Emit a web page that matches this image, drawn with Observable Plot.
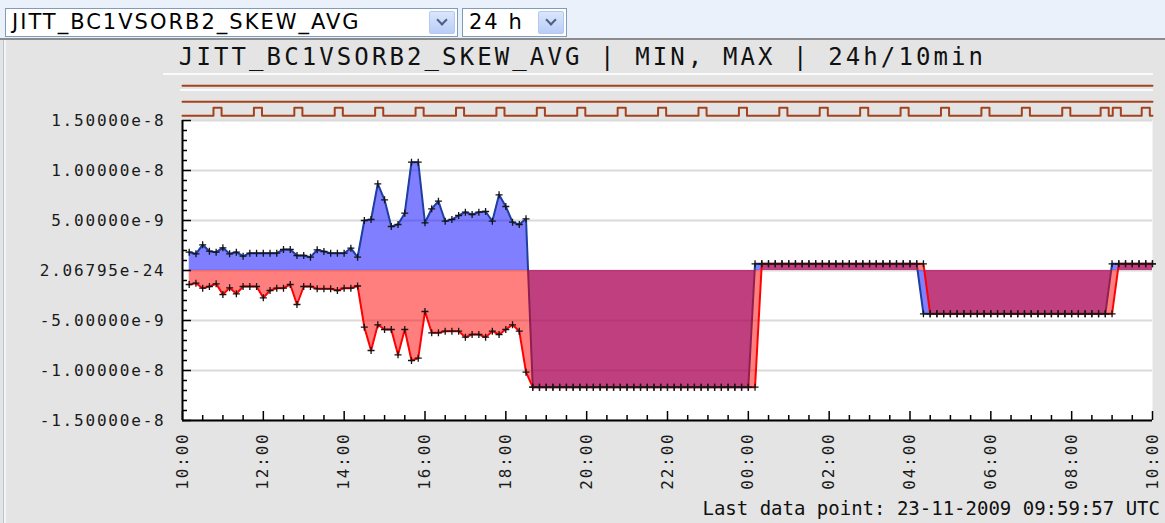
<!DOCTYPE html>
<html>
<head>
<meta charset="utf-8">
<script src="https://cdn.jsdelivr.net/npm/d3@7"></script>
<script src="https://cdn.jsdelivr.net/npm/@observablehq/plot@0.6"></script>
<style>
  body { margin: 0; width: 1165px; height: 523px; overflow: hidden; background: #e4e4e4; position: relative; font-family: "DejaVu Sans", sans-serif; }
  #topbar { position: absolute; left: 0; top: 0; width: 1165px; height: 40px; background: #eaf1fa; border-bottom: 2px solid #8c8c8c; box-sizing: border-box; }
  .sel { position: absolute; top: 8px; height: 29px; background: #fff; border: 1px solid #7f9db9; box-sizing: border-box; }
  .sel span { position: absolute; left: 6px; top: 1px; font-size: 21px; letter-spacing: 2px; color: #000; white-space: nowrap; }
  .btn { position: absolute; top: 2px; right: 2px; width: 26px; height: 23px; background: linear-gradient(#dbe6fc, #b9cdf6); border: 1px solid #b5c7ef; border-radius: 2px; box-sizing: border-box; }
  .btn:after { content: ""; position: absolute; left: 8px; top: 4px; width: 6px; height: 6px; border-right: 2.5px solid #4a5f88; border-bottom: 2.5px solid #4a5f88; transform: rotate(45deg); }
  #leftedge { position: absolute; left: 3px; top: 40px; width: 2px; height: 483px; background: #f4f4f4; border-left: 1px solid #b8c4d4; }
  #title { position: absolute; left: 0; top: 43px; width: 1165px; text-align: center; font-family: "DejaVu Sans Mono", monospace; font-size: 24px; letter-spacing: 3.1px; color: #111; white-space: nowrap; }
  .hl { position: absolute; height: 2px; background: #fafafa; }
  .lane { position: absolute; left: 0; }
  #chart { position: absolute; left: 0; top: 0; }
  #lastpoint { position: absolute; right: 5px; top: 497px; font-family: "DejaVu Sans Mono", monospace; font-size: 19px; color: #111; white-space: nowrap; }
</style>
</head>
<body>
<div id="topbar">
  <div class="sel" style="left:5px;width:453px;"><span>JITT_BC1VSORB2_SKEW_AVG</span><div class="btn"></div></div>
  <div class="sel" style="left:462px;width:105px;"><span>24 h</span><div class="btn"></div></div>
</div>
<div id="leftedge"></div>
<div id="title">JITT_BC1VSORB2_SKEW_AVG | MIN, MAX | 24h/10min</div>
<div class="hl" style="left:163px;top:73px;width:990px;"></div>
<div class="hl" style="left:180px;top:89px;width:973px;"></div>
<div id="lanes"></div>
<div id="chart"></div>
<div id="lastpoint">Last data point: 23-11-2009 09:59:57 UTC</div>
<script>
// ---------- data ----------
const domainStart = Date.UTC(2009, 10, 22, 10, 0, 0);
const domainEnd = Date.UTC(2009, 10, 23, 10, 0, 0);
const firstSample = Date.UTC(2009, 10, 22, 10, 9, 57);
const sampleStepMinutes = 10;

// MAX series, units of 1e-9
const maxValues = [
  1.83, 1.67, 2.57, 1.93, 1.83, 2.27, 1.67, 1.83, 1.43, 1.73,
  1.73, 1.73, 1.73, 1.73, 2.10, 2.10, 1.50, 1.50, 1.33, 2.07,
  1.90, 1.73, 1.73, 1.73, 2.23, 1.33, 5.00, 5.10, 8.67, 7.07,
  4.40, 4.60, 5.73, 10.83, 10.83, 4.77, 6.17, 6.93, 4.93, 5.10,
  5.50, 5.83, 5.60, 5.83, 5.90, 4.93, 7.57, 6.40, 4.83, 4.60,
  5.17, -11.67, -11.67, -11.67, -11.67, -11.67, -11.67, -11.67, -11.67, -11.67,
  -11.67, -11.67, -11.67, -11.67, -11.67, -11.67, -11.67, -11.67, -11.67, -11.67,
  -11.67, -11.67, -11.67, -11.67, -11.67, -11.67, -11.67, -11.67, -11.67, -11.67,
  -11.67, -11.67, -11.67, -11.67, 0.67, 0.67, 0.67, 0.67, 0.67, 0.67,
  0.67, 0.67, 0.67, 0.67, 0.67, 0.67, 0.67, 0.67, 0.67, 0.67,
  0.67, 0.67, 0.67, 0.67, 0.67, 0.67, 0.67, 0.67, 0.67, -4.33,
  -4.33, -4.33, -4.33, -4.33, -4.33, -4.33, -4.33, -4.33, -4.33, -4.33,
  -4.33, -4.33, -4.33, -4.33, -4.33, -4.33, -4.33, -4.33, -4.33, -4.33,
  -4.33, -4.33, -4.33, -4.33, -4.33, -4.33, -4.33, 0.67, 0.67, 0.67,
  0.67, 0.67, 0.67, 0.67
];

// MIN series, units of 1e-9
const minValues = [
  -1.40, -1.27, -1.77, -1.60, -1.33, -2.40, -1.73, -2.33, -1.60, -1.60,
  -1.60, -2.73, -2.00, -1.77, -1.77, -1.40, -3.40, -1.60, -1.60, -1.83,
  -1.83, -1.83, -2.00, -1.77, -1.77, -1.55, -5.67, -8.00, -5.43, -5.90,
  -5.90, -8.43, -5.90, -9.00, -8.77, -4.10, -6.23, -6.23, -6.07, -6.07,
  -6.07, -6.67, -6.40, -6.40, -6.67, -6.07, -6.40, -5.90, -5.43, -6.07,
  -10.17, -11.67, -11.67, -11.67, -11.67, -11.67, -11.67, -11.67, -11.67, -11.67,
  -11.67, -11.67, -11.67, -11.67, -11.67, -11.67, -11.67, -11.67, -11.67, -11.67,
  -11.67, -11.67, -11.67, -11.67, -11.67, -11.67, -11.67, -11.67, -11.67, -11.67,
  -11.67, -11.67, -11.67, -11.67, -11.67, 0.67, 0.67, 0.67, 0.67, 0.67,
  0.67, 0.67, 0.67, 0.67, 0.67, 0.67, 0.67, 0.67, 0.67, 0.67,
  0.67, 0.67, 0.67, 0.67, 0.67, 0.67, 0.67, 0.67, 0.67, 0.67,
  -4.33, -4.33, -4.33, -4.33, -4.33, -4.33, -4.33, -4.33, -4.33, -4.33,
  -4.33, -4.33, -4.33, -4.33, -4.33, -4.33, -4.33, -4.33, -4.33, -4.33,
  -4.33, -4.33, -4.33, -4.33, -4.33, -4.33, -4.33, -4.33, 0.67, 0.67,
  0.67, 0.67, 0.67, 0.67
];

const yTicks = [15, 10, 5, 0, -5, -10, -15];
const yTickLabels = ["1.50000e-8", "1.00000e-8", "5.00000e-9", "2.06795e-24", "-5.00000e-9", "-1.00000e-8", "-1.50000e-8"];
const yMinorStep = 1;
const xMajorHours = 2;
const xMinorMinutes = 30;

// status lanes: pulse start times (HH:MM, day rolls over after midnight), pulse length in minutes
const lane1Pulses = [];
const lane2Pulses = [];
const lane3Pulses = ["10:46", "11:46", "12:46", "13:46", "14:46", "15:46", "16:46", "17:46",
  "18:46", "19:46", "20:46", "21:46", "22:46", "23:46", "00:46", "01:46", "02:46", "03:46",
  "04:46", "05:46", "06:46", "07:46", "08:43", "09:01", "09:44"];
const pulseMinutes = 12;

// ---------- build tables ----------
const rows = maxValues.map((mx, i) => ({
  t: new Date(firstSample + i * sampleStepMinutes * 60000),
  max: mx,
  min: minValues[i]
}));

const W = 1165, H = 523, ML = 182, MR = 13, MT = 120, MB = 103;
const innerW = W - ML - MR, innerH = H - MT - MB;
const xDomain = [new Date(domainStart), new Date(domainEnd)];

const yMinor = d3.range(-15, 15 + 1e-9, yMinorStep).filter(v => !yTicks.includes(v));
const xMajor = d3.utcHour.every(xMajorHours).range(xDomain[0], new Date(domainEnd + 1));
const xMinor = d3.utcMinute.every(xMinorMinutes).range(xDomain[0], new Date(domainEnd + 1))
  .filter(d => !xMajor.some(m => +m === +d));

const chart = Plot.plot({
  width: W, height: H,
  marginLeft: ML, marginRight: MR, marginTop: MT, marginBottom: MB,
  style: { background: "transparent", fontFamily: "'DejaVu Sans Mono', monospace", fontSize: "16px", color: "#1a1a1a", letterSpacing: "1.8px" },
  x: { type: "utc", domain: xDomain },
  y: { domain: [-15, 15] },
  marks: [
    Plot.frame({ fill: "white", stroke: null }),
    Plot.ruleY(yTicks, { stroke: "#dadada", strokeWidth: 2 }),
    Plot.areaY(rows, { x: "t", y1: 0, y2: "max", fill: "#0000ff", fillOpacity: 0.5 }),
    Plot.line(rows, { x: "t", y: "max", stroke: "#1e3ea0", strokeWidth: 2 }),
    Plot.areaY(rows, { x: "t", y1: 0, y2: "min", fill: "#ff0000", fillOpacity: 0.5 }),
    Plot.line(rows, { x: "t", y: "min", stroke: "#ff0000", strokeWidth: 2 }),
    Plot.dot(rows, { x: "t", y: "max", symbol: "plus", r: 2.4, stroke: "#151515", strokeWidth: 1.3 }),
    Plot.dot(rows, { x: "t", y: "min", symbol: "plus", r: 2.4, stroke: "#151515", strokeWidth: 1.3 }),
    // axis lines
    Plot.ruleX([xDomain[0]], { stroke: "#000", strokeWidth: 2 }),
    Plot.ruleY([-15], { stroke: "#000", strokeWidth: 2 }),
    // inward y ticks
    Plot.ruleY(yTicks, { stroke: "#000", strokeWidth: 1.5, insetRight: innerW - 9 }),
    Plot.ruleY(yMinor, { stroke: "#000", strokeWidth: 1.5, insetRight: innerW - 5 }),
    // inward x ticks
    Plot.ruleX(xMajor, { stroke: "#000", strokeWidth: 1.5, insetTop: innerH - 9 }),
    Plot.ruleX(xMinor, { stroke: "#000", strokeWidth: 1.5, insetTop: innerH - 5 }),
    Plot.axisY(yTicks, { tickSize: 0, tickPadding: 17, label: null, tickFormat: d => yTickLabels[yTicks.indexOf(d)] }),
    Plot.axisX(xMajor, { tickSize: 0, tickPadding: 12, tickRotate: -90, label: null, tickFormat: d3.utcFormat("%H:%M") })
  ]
});
document.getElementById("chart").append(chart);

// status lanes
function laneSeries(pulses) {
  const pts = [{ t: new Date(domainStart), v: 0 }];
  for (const p of pulses) {
    const [hh, mm] = p.split(":").map(Number);
    const dayOffset = hh < 10 ? 1 : 0;
    const s = Date.UTC(2009, 10, 22 + dayOffset, hh, mm);
    const e = s + pulseMinutes * 60000;
    pts.push({ t: new Date(s), v: 0 }, { t: new Date(s), v: 1 }, { t: new Date(e), v: 1 }, { t: new Date(e), v: 0 });
  }
  pts.push({ t: new Date(domainEnd), v: 0 });
  return pts;
}
const lanes = [lane1Pulses, lane2Pulses, lane3Pulses];
const laneTops = [74, 90, 104];
lanes.forEach((pulses, k) => {
  const p = Plot.plot({
    width: W, height: 16, marginLeft: ML, marginRight: MR, marginTop: 0, marginBottom: 0,
    style: { background: "transparent" },
    x: { type: "utc", domain: xDomain, axis: null },
    y: { domain: [-0.6, 1.4], axis: null },
    marks: [Plot.line(laneSeries(pulses), { x: "t", y: "v", stroke: "#a4421c", strokeWidth: 2 })]
  });
  const d = document.createElement("div");
  d.className = "lane";
  d.style.top = laneTops[k] + "px";
  d.append(p);
  document.getElementById("lanes").append(d);
});
</script>
</body>
</html>
